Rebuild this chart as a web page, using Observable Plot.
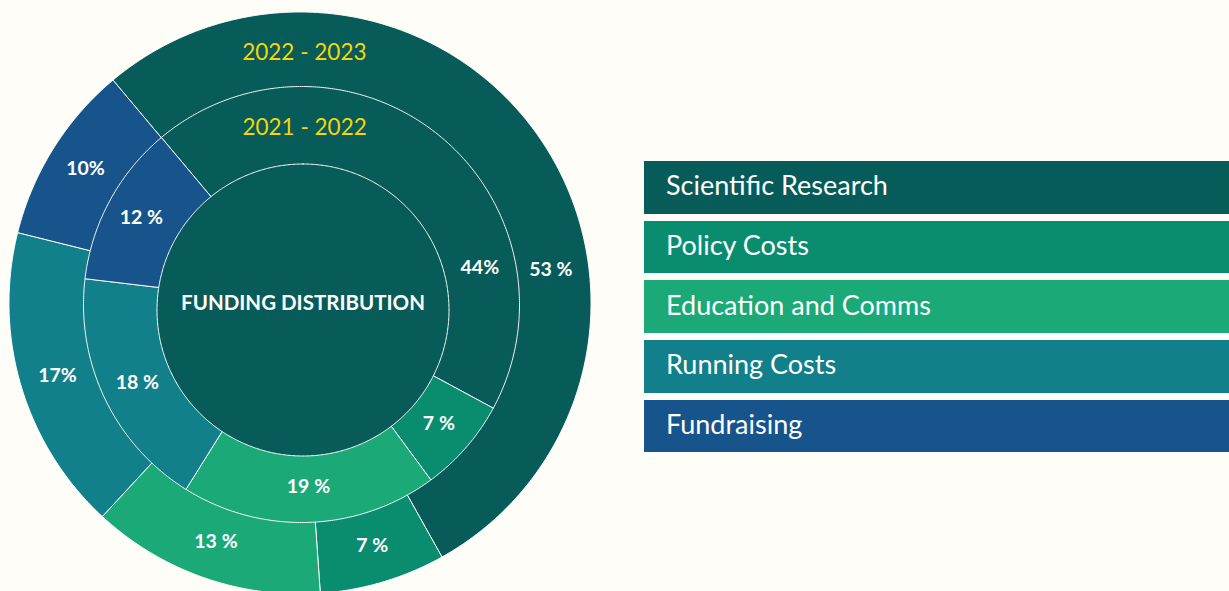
<!DOCTYPE html>
<html><head><meta charset="utf-8">
<script src="https://cdn.jsdelivr.net/npm/d3@7"></script>
<script src="https://cdn.jsdelivr.net/npm/@observablehq/plot@0.6"></script>
<style>
html,body{margin:0;padding:0;background:#fffdf8;width:1229px;height:591px;overflow:hidden;font-family:Lato,"Open Sans",sans-serif}
#chart{position:absolute;left:0;top:0}
#legend{position:absolute;left:644px;top:161px;width:585px}
.item{height:52.7px;margin-bottom:7px;color:#fff;font-size:27px;line-height:1;display:flex;align-items:center;padding-left:22px;padding-bottom:5px;box-sizing:border-box;font-family:Lato,sans-serif}
</style></head><body>
<div id="chart"></div><div id="legend"></div>
<script>
// ---- data ----
const categories = ["Scientific Research", "Policy Costs", "Education and Comms", "Running Costs", "Fundraising"];
const colors = ["#075b58", "#0a8d6f", "#1ba978", "#12808a", "#17548b"];
const years = ["2021 - 2022", "2022 - 2023"];
const share2021_22 = [44, 7, 19, 18, 12];
const share2022_23 = [53, 7, 13, 17, 10];
const labels2021_22 = ["44%", "7 %", "19 %", "18 %", "12 %"];
const labels2022_23 = ["53 %", "7 %", "13 %", "17%", "10%"];
const centerTitle = "FUNDING DISTRIBUTION";

// ---- layout ----
const W = 1229, H = 591;
const START = -40; // first slice angle, degrees clockwise from 12 o'clock
const rings = [
  {year: years[1], values: share2022_23, labels: labels2022_23, cx: 299.5, cy: 302.5, r: 291, labelR: 253, titleR: 250, leadAngle: 82.5},
  {year: years[0], values: share2021_22, labels: labels2021_22, cx: 301, cy: 304, r: 218, labelR: 182, titleR: 177, leadAngle: 78.5}
];
const hub = {cx: 302.5, cy: 309.5, r: 146};

function pt(cx, cy, r, deg) {
  const a = deg * Math.PI / 180;
  return [cx + r * Math.sin(a), cy - r * Math.cos(a)];
}
function arcPoints(cx, cy, r, a0, a1, withCenter) {
  const n = Math.max(2, Math.ceil(Math.abs(a1 - a0) / 0.5));
  const pts = withCenter ? [[cx, cy]] : [];
  for (let k = 0; k <= n; k++) pts.push(pt(cx, cy, r, a0 + (a1 - a0) * k / n));
  if (withCenter) pts.push([cx, cy]);
  return pts;
}

const ringSlices = [];
const pctLabels = [];
const yearLabels = [];
rings.forEach((ring) => {
  const total = d3.sum(ring.values);
  let acc = 0;
  const rows = [];
  ring.values.forEach((v, i) => {
    const a0 = START + acc / total * 360;
    acc += v;
    const a1 = START + acc / total * 360;
    const key = ring.year + "|" + categories[i];
    arcPoints(ring.cx, ring.cy, ring.r, a0, a1, true)
      .forEach(([x, y]) => rows.push({key, category: categories[i], x, y}));
    const mid = i === 0 ? ring.leadAngle : (a0 + a1) / 2;
    const [lx, ly] = pt(ring.cx, ring.cy, ring.labelR, mid);
    pctLabels.push({x: lx, y: ly, text: ring.labels[i]});
  });
  ringSlices.push(rows);
  const [tx, ty] = pt(ring.cx, ring.cy, ring.titleR, 1);
  yearLabels.push({x: tx, y: ty, text: ring.year});
});
const hubPts = arcPoints(hub.cx, hub.cy, hub.r, 0, 360, false).map(([x, y]) => ({x, y}));

const chart = Plot.plot({
  width: W, height: H,
  margin: 0,
  style: {background: "transparent", overflow: "visible"},
  x: {domain: [0, W], range: [0, W], axis: null},
  y: {domain: [0, H], range: [0, H], axis: null},
  color: {domain: categories, range: colors},
  marks: [
    Plot.line(ringSlices[0], {x: "x", y: "y", z: "key", fill: "category", stroke: "white", strokeWidth: 1, strokeOpacity: 0.95, curve: "linear"}),
    Plot.line(ringSlices[1], {x: "x", y: "y", z: "key", fill: "category", stroke: "white", strokeWidth: 1, strokeOpacity: 0.95, curve: "linear"}),
    Plot.line(hubPts, {x: "x", y: "y", fill: colors[0], stroke: "white", strokeWidth: 1, curve: "linear-closed"}),
    Plot.text(pctLabels, {x: "x", y: "y", text: "text", fill: "white", fontWeight: "bold", fontSize: 19.5, fontFamily: "Lato"}),
    Plot.text(yearLabels, {x: "x", y: "y", text: "text", fill: "#f4d60a", fontSize: 22.5, fontFamily: "Lato"}),
    Plot.text([centerTitle], {x: () => hub.cx, y: () => hub.cy - 7, text: d => d, fill: "white", fontWeight: "bold", fontSize: 20.5, fontFamily: "Lato"})
  ]
});
document.getElementById("chart").appendChild(chart);

const legend = document.getElementById("legend");
categories.forEach((c, i) => {
  const d = document.createElement("div");
  d.className = "item";
  d.style.background = colors[i];
  d.textContent = c;
  legend.appendChild(d);
});
</script>
</body></html>
